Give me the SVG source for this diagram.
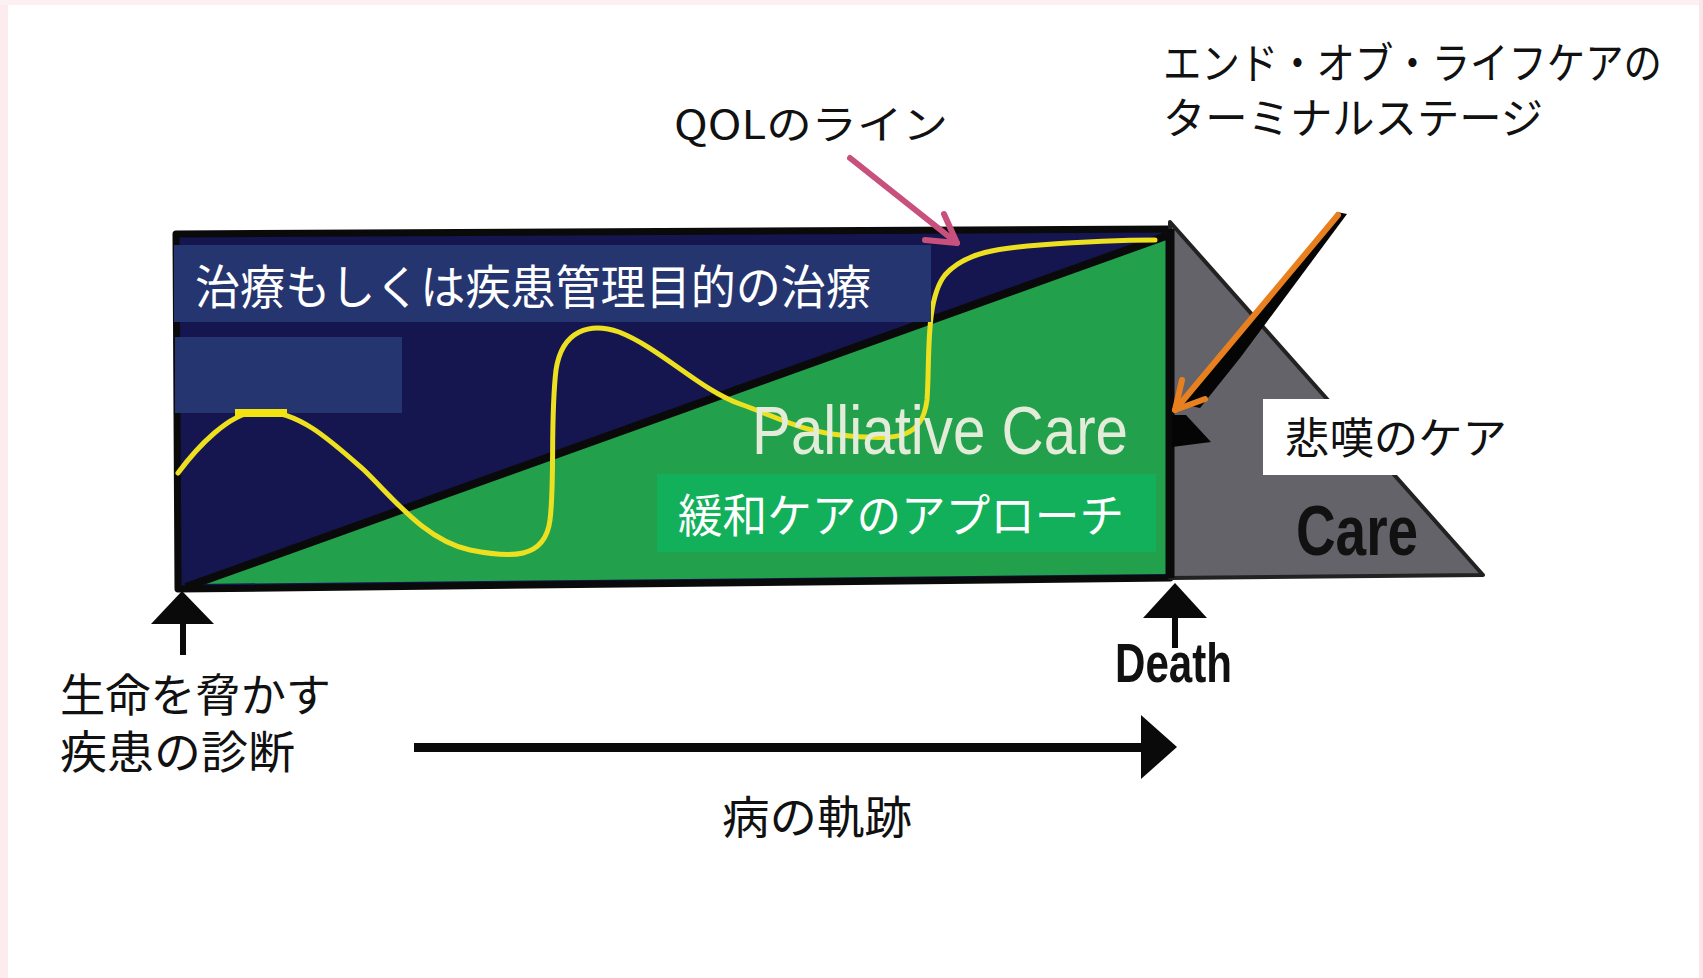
<svg xmlns="http://www.w3.org/2000/svg" width="1703" height="978" viewBox="0 0 1703 978">
<style>
.jp{font-family:"Noto Sans CJK JP","Noto Sans",sans-serif;}
.w{fill:#ffffff;}
.k{fill:#111111;}
.en{font-family:"Liberation Sans","Open Sans",sans-serif;}
</style>
<rect x="0" y="0" width="1703" height="978" fill="#ffffff"/>
<rect x="0" y="0" width="8" height="978" fill="#fcecef"/>
<rect x="0" y="0" width="1703" height="5" fill="#fcf0f2"/>
<rect x="1699" y="0" width="4" height="978" fill="#fbe6ea"/>

<g id="chart">
  <polygon points="176,234 1170,229 1170,578 178,589" fill="#15154f" stroke="#0a0a0a" stroke-width="7" stroke-linejoin="round"/>
  <polygon points="195,584 1166,236 1166,574" fill="#23a04b"/>
  <line x1="186" y1="587" x2="1166" y2="236" stroke="#0a0a0a" stroke-width="8"/>
  <polygon points="1170,222 1483,575 1170,578" fill="#636369" stroke="#222" stroke-width="4" stroke-linejoin="round"/>
  <line x1="1170" y1="229" x2="1170" y2="578" stroke="#0a0a0a" stroke-width="9"/>
  <polygon points="1172,415 1186,415 1211,442 1172,447" fill="#050505"/>
  <path d="M178,473 C195,450 230,410 262,411 C300,412 330,440 364,470 C395,500 425,540 470,550 C510,558 545,560 550,520 C555,480 550,420 556,370 C562,330 590,322 619,332 C660,348 700,390 740,404 C780,418 800,432 850,436 C900,440 922,438 927,400 C930,360 925,300 945,275 C965,252 1000,248 1040,245 C1080,242 1120,240 1155,240" fill="none" stroke="#ece021" stroke-width="5" stroke-linecap="round"/>
  <text class="en" x="752" y="454" font-size="68" fill="#e2ecd9" textLength="376" lengthAdjust="spacingAndGlyphs">Palliative Care</text>
  <text class="en" x="1296" y="555" font-size="70" font-weight="bold" fill="#111" textLength="122" lengthAdjust="spacingAndGlyphs">Care</text>
</g>

<g id="curative">
  <rect x="174" y="245" width="757" height="77" fill="#253570"/>
  <text class="jp w" x="195" y="304" font-size="47" textLength="676" lengthAdjust="spacingAndGlyphs">治療もしくは疾患管理目的の治療</text>
</g>
<g id="blank-box">
  <rect x="175" y="337" width="227" height="76" fill="#253570"/>
  <rect x="235" y="409" width="52" height="8" fill="#f2e20f"/>
</g>
<g id="palliative">
  <rect x="657" y="474" width="499" height="78" fill="#12b05a"/>
  <text class="jp w" x="678" y="532" font-size="46" textLength="446" lengthAdjust="spacingAndGlyphs">緩和ケアのアプローチ</text>
</g>
<g id="grief">
  <rect x="1263" y="399" width="250" height="76" fill="#ffffff"/>
  <text class="jp k" x="1285" y="454" font-size="43" textLength="222" lengthAdjust="spacingAndGlyphs">悲嘆のケア</text>
</g>
<g id="qol-label">
  <text class="jp k" x="674" y="139" font-size="40" textLength="274" lengthAdjust="spacingAndGlyphs">QOLのライン</text>
</g>
<g id="eol-label">
  <text class="jp k" x="1163" y="79" font-size="43" textLength="499" lengthAdjust="spacingAndGlyphs">エンド・オブ・ライフケアの</text>
  <text class="jp k" x="1163" y="134" font-size="43" textLength="380" lengthAdjust="spacingAndGlyphs">ターミナルステージ</text>
</g>
<g id="diagnosis">
  <text class="jp k" x="60" y="712" font-size="45" textLength="271" lengthAdjust="spacingAndGlyphs">生命を脅かす</text>
  <text class="jp k" x="60" y="769" font-size="45" textLength="235" lengthAdjust="spacingAndGlyphs">疾患の診断</text>
</g>
<g id="death">
  <text class="en" x="1115" y="682" font-size="55" font-weight="bold" fill="#111" textLength="117" lengthAdjust="spacingAndGlyphs">Death</text>
</g>
<g id="trajectory">
  <text class="jp k" x="722" y="834" font-size="45" textLength="190" lengthAdjust="spacingAndGlyphs">病の軌跡</text>
</g>

<g id="connectors">
  <polygon points="182,591 214,624 151,624" fill="#0a0a0a"/>
  <rect x="180" y="620" width="6" height="35" fill="#0a0a0a"/>
  <polygon points="1175,583 1207,618 1143,618" fill="#0a0a0a"/>
  <rect x="1172" y="615" width="6" height="33" fill="#0a0a0a"/>
  <rect x="414" y="743" width="731" height="9" fill="#0a0a0a"/>
  <polygon points="1141,715 1177,747 1141,779" fill="#0a0a0a"/>
  <g fill="none" stroke="#c8507c" stroke-width="6" stroke-linecap="round" stroke-linejoin="round">
    <line x1="850" y1="158" x2="957" y2="243"/>
    <polyline points="944,214 957,243 925,240"/>
  </g>
  <polygon points="1337,212 1347,214 1240,358 1200,408 1182,404" fill="#050505"/>
  <g fill="none" stroke="#e8801f" stroke-width="6" stroke-linecap="round" stroke-linejoin="round">
    <line x1="1338" y1="215" x2="1175" y2="410"/>
    <polyline points="1182,380 1175,410 1205,399"/>
  </g>
</g>
</svg>
